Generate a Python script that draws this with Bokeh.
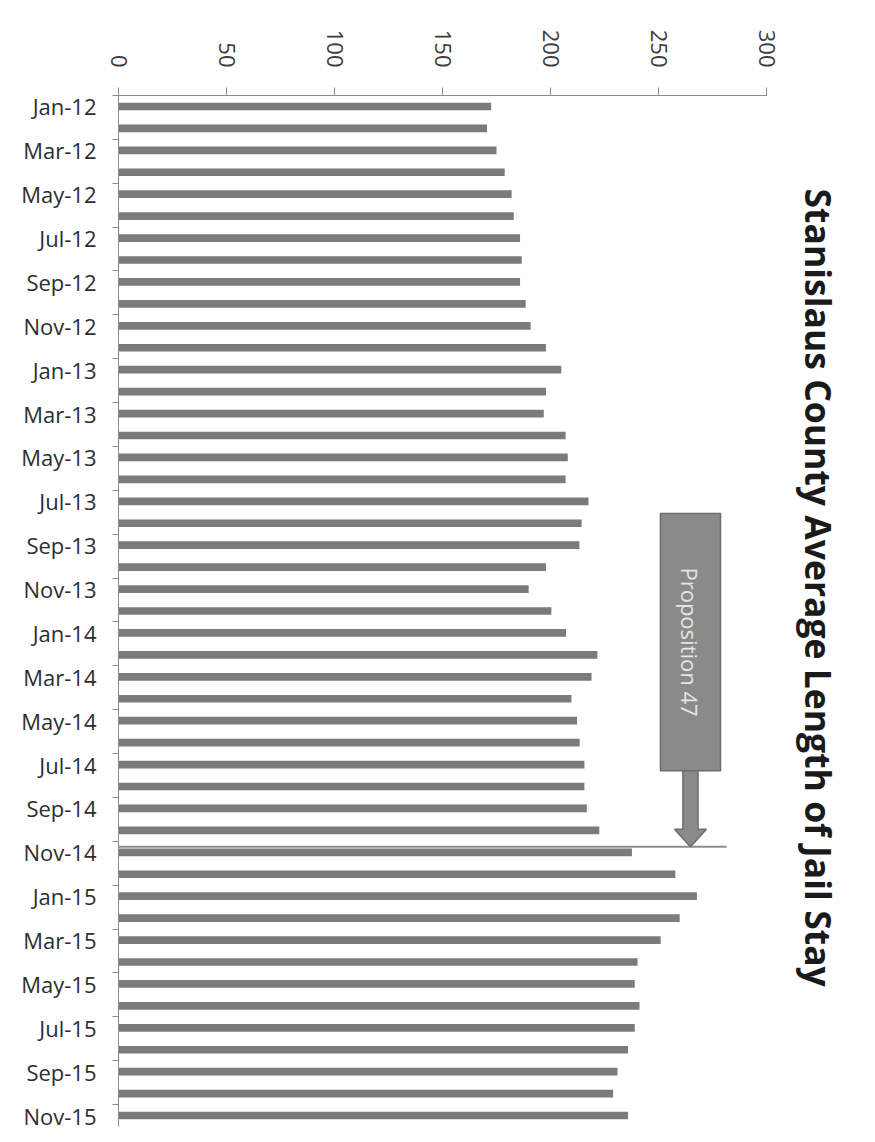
import math
from bokeh.plotting import figure
from bokeh.models import (ColumnDataSource, Range1d, FixedTicker, Title, Label)
from bokeh.embed import file_html
from bokeh.resources import INLINE

# ---- data -------------------------------------------------------------
months = ["Jan-12", "Feb-12", "Mar-12", "Apr-12", "May-12", "Jun-12",
          "Jul-12", "Aug-12", "Sep-12", "Oct-12", "Nov-12", "Dec-12",
          "Jan-13", "Feb-13", "Mar-13", "Apr-13", "May-13", "Jun-13",
          "Jul-13", "Aug-13", "Sep-13", "Oct-13", "Nov-13", "Dec-13",
          "Jan-14", "Feb-14", "Mar-14", "Apr-14", "May-14", "Jun-14",
          "Jul-14", "Aug-14", "Sep-14", "Oct-14", "Nov-14", "Dec-14",
          "Jan-15", "Feb-15", "Mar-15", "Apr-15", "May-15", "Jun-15",
          "Jul-15", "Aug-15", "Sep-15", "Oct-15", "Nov-15"]

avg_stay = [172.5, 170.6, 175.0, 178.8, 182.0, 183.0, 185.9, 186.7, 185.9, 188.5, 190.8, 197.9,
            205.0, 197.9, 196.9, 207.0, 208.0, 207.0, 217.6, 214.4, 213.4, 197.9, 189.9, 200.4,
            207.2, 221.7, 219.0, 209.7, 212.3, 213.5, 215.7, 215.7, 216.8, 222.6, 237.7, 257.8,
            267.8, 259.8, 251.0, 240.3, 239.0, 241.2, 239.0, 235.9, 231.0, 229.0, 235.9]

x_ticks = [0, 50, 100, 150, 200, 250, 300]
title_text = "Stanislaus County Average Length of Jail Stay"
annotation_text = "Proposition 47"
event_month = "Nov-14"

# ---- figure -----------------------------------------------------------
n = len(months)
idx = list(range(n))
src = ColumnDataSource(dict(idx=idx, month=months, value=avg_stay))

FONT = "Open Sans"

p = figure(width=874, height=1136, output_backend="svg", toolbar_location=None,
           title=None, x_axis_location="above",
           x_range=Range1d(0, 300), y_range=Range1d(n - 0.5, -0.5),
           min_border_left=118, min_border_top=95, min_border_right=108,
           min_border_bottom=10)
p.outline_line_color = None
p.background_fill_color = "white"
p.border_fill_color = "white"
p.xgrid.grid_line_color = None
p.ygrid.grid_line_color = None

p.hbar(y="idx", right="value", left=0, height=0.35, source=src,
       fill_color="#7b7b7b", line_color=None)

# x axis (top)
xa = p.xaxis[0]
xa.ticker = FixedTicker(ticks=x_ticks, minor_ticks=[])
xa.major_label_orientation = -math.pi / 2
xa.major_label_text_font = FONT
xa.major_label_text_font_size = "22px"
xa.major_label_text_color = "#3c3c3c"
xa.major_tick_out = 8
xa.major_tick_in = 0
xa.minor_tick_out = 0
xa.axis_line_color = "#8c8c8c"
xa.major_tick_line_color = "#8c8c8c"
xa.major_label_standoff = 20

# y axis (left): labels every other month, tick marks at boundaries
ya = p.yaxis[0]
label_idx = idx[::2]
ya.ticker = FixedTicker(ticks=label_idx,
                        minor_ticks=[i - 0.5 for i in label_idx])
ya.major_label_overrides = {i: months[i] for i in label_idx}
ya.major_tick_out = 0
ya.major_tick_in = 0
ya.minor_tick_out = 6
ya.minor_tick_in = 0
ya.minor_tick_line_color = "#8c8c8c"
ya.axis_line_color = "#8c8c8c"
ya.major_label_text_font = FONT
ya.major_label_text_font_size = "22px"
ya.major_label_text_color = "#2e2e2e"
ya.major_label_standoff = 16

# title on the right side, reading top-to-bottom
t = Title(text=title_text, align="left", offset=93, text_font=FONT,
          text_font_size="35.5px", text_font_style="bold",
          text_color="#1a1a1a", standoff=56)
p.add_layout(t, "right")

# ---- Proposition 47 annotation ---------------------------------------
ev = months.index(event_month)
line_y = ev - 0.25
p.line(x=[0, 281.5], y=[line_y, line_y], line_color="#8f8f8f", line_width=2)

cx = 264.8
box_l, box_r = 250.9, 278.7
box_t, box_b = ev - 15.45, ev - 3.72
shaft_half = 3.5
head_half = 7.4
head_start = ev - 1.05
p.quad(left=[box_l], right=[box_r], top=[box_t], bottom=[box_b],
       fill_color="#8a8a8a", line_color="#6c6c6c", line_width=1.5)
p.patch(x=[cx - shaft_half, cx + shaft_half, cx + shaft_half, cx + head_half,
           cx, cx - head_half, cx - shaft_half],
        y=[box_b, box_b, head_start, head_start, line_y, head_start, head_start],
        fill_color="#8a8a8a", line_color="#6c6c6c", line_width=1.5)

lab = Label(x=cx, y=(box_t + box_b) / 2, text=annotation_text,
            angle=-math.pi / 2, text_align="center", text_baseline="middle",
            text_font=FONT, text_font_size="22px", text_color="#e6e6e6")
p.add_layout(lab)

open("out.html", "w").write(file_html(p, INLINE))
